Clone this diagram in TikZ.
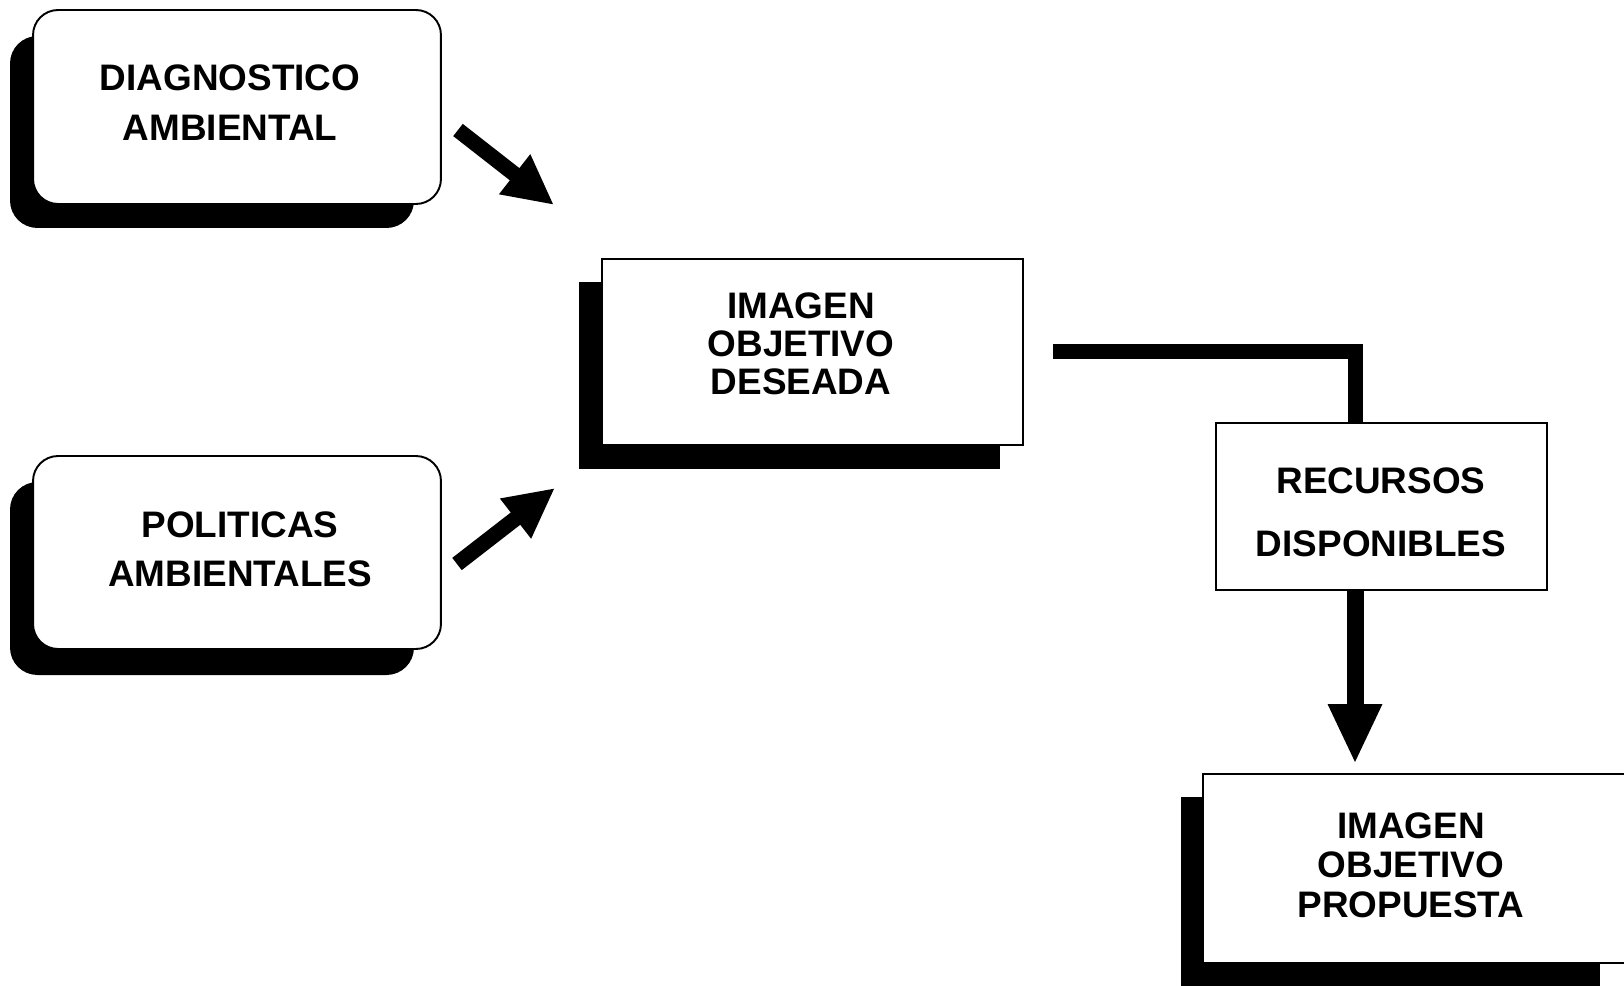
\documentclass[tikz,border=0pt]{standalone}
\usepackage{fontspec}
\setmainfont{Liberation Sans}
\usetikzlibrary{arrows.meta}
\begin{document}
\begin{tikzpicture}[x=0.02cm,y=-0.02cm]
\tikzset{
  txt/.style={font=\bfseries\fontsize{21}{#1}\selectfont, align=center, inner sep=0pt},
  txt/.default=28,
  roundbox/.style={draw=black, line width=1.1pt, fill=white, rounded corners=0.5cm, inner sep=0pt},
  sqbox/.style={draw=black, line width=1pt, fill=white, inner sep=0pt},
  shade/.style={fill=black},
  fat/.style={line width=0.3cm, line join=miter},
  fatarrow/.style={line width=0.31cm, -{Triangle[length=1.0cm,width=0.94cm]}},
  downarrow/.style={line width=0.34cm, -{Triangle[length=1.2cm,width=1.0cm]}},
}
\useasboundingbox (0,0) rectangle (1624,986);
\fill[white] (0,0) rectangle (1624,986);
\begin{scope}
\clip (0,0) rectangle (1624,986);

% diagnostico ambiental
\fill[shade, rounded corners=0.55cm] (10,36) rectangle (414,228);
\node[roundbox, minimum width=8.16cm, minimum height=3.88cm] (diag) at (237,107) {};
\node[txt=28.5] (diagT) at (230,103) {DIAGNOSTICO\\AMBIENTAL};

% politicas ambientales
\fill[shade, rounded corners=0.55cm] (10,482) rectangle (414,675);
\node[roundbox, minimum width=8.16cm, minimum height=3.86cm] (pol) at (237,552.5) {};
\node[txt=28] (polT) at (240,549) {POLITICAS\\AMBIENTALES};

% imagen objetivo deseada
\fill[shade] (579,282) rectangle (1000,469);
\node[sqbox, minimum width=8.42cm, minimum height=3.72cm] (des) at (812.5,352) {};
\node[txt=21.6] (desT) at (801,344) {IMAGEN\\OBJETIVO\\DESEADA};

% recursos disponibles
\node[sqbox, minimum width=6.62cm, minimum height=3.34cm] (rec) at (1381.5,506.5) {};
\node[txt=36] (recT) at (1381,512) {RECURSOS\\DISPONIBLES};

% imagen objetivo propuesta
\fill[shade] (1181,797) rectangle (1600,995);
\node[sqbox, minimum width=8.74cm, minimum height=3.78cm] (prop) at (1421.5,868.5) {};
\node[txt=22.4] (propT) at (1411,865) {IMAGEN\\OBJETIVO\\PROPUESTA};

% inputs towards the desired image
\coordinate (a1s) at (458,130);
\coordinate (a1e) at (554,205);
\draw[fatarrow] (a1s) -- (a1e);
\coordinate (a2s) at (457,564);
\coordinate (a2e) at (555,488);
\draw[fatarrow] (a2s) -- (a2e);

% desired image to available resources
\coordinate (cs) at (1053,352);
\coordinate (cturn) at (1355,352);
\draw[fat] (cs) -- (cturn) -- (cturn |- rec.north);

% resources to proposed image
\coordinate (dtip) at (1355,764);
\draw[downarrow] (dtip |- rec.south) -- (dtip);
\end{scope}
\end{tikzpicture}
\end{document}
